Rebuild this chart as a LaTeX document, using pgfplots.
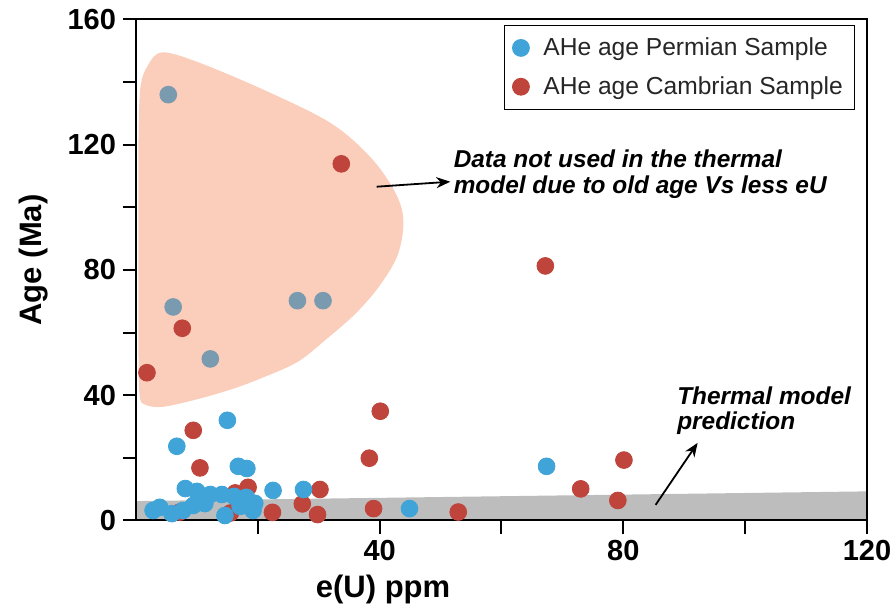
\documentclass[border=0pt]{standalone}
\usepackage{fontspec}
\setmainfont{Liberation Sans}
\usepackage{pgfplots}
\pgfplotsset{compat=1.18}
\usetikzlibrary{arrows.meta}
\definecolor{blueC}{RGB}{64,164,216}
\definecolor{redC}{RGB}{190,68,60}
\definecolor{grayblue}{RGB}{122,154,176}
\definecolor{salmon}{RGB}{250,206,186}
\definecolor{bandgray}{RGB}{124,124,124}
\begin{document}
\begin{tikzpicture}
\begin{axis}[
  scale only axis, width=365.5pt, height=250.5pt,
  xmin=0, xmax=120, ymin=0, ymax=160,
  axis line style={line width=1pt, black},
  axis on top,
  xtick={40,80,120}, minor xtick={20,60,100},
  ytick={0,40,80,120,160}, minor ytick={20,60,100,140},
  xtick pos=bottom, ytick pos=left,
  tick align=outside,
  major tick length=6.5pt, minor tick length=6.5pt,
  every tick/.style={line width=1pt, black},
  /pgf/number format/assume math mode=true,
  ticklabel style={font=\bfseries\fontsize{14.5}{16}\selectfont},
  xlabel={e(U) ppm}, ylabel={Age (Ma)},
  label style={font=\bfseries\fontsize{15.5}{17}\selectfont},
  x label style={at={(axis description cs:0.338,-0.095)}, anchor=north},
  y label style={at={(axis description cs:-0.14,0.52)}, anchor=center, rotate=0},
  legend style={at={(axis description cs:0.984,0.989)}, anchor=north east,
    draw=black, line width=0.5pt, font=\fontsize{12.3}{14}\selectfont,
    row sep=5pt, inner xsep=4pt, inner ysep=4pt, text=black!85,
    /tikz/every odd column/.style={column sep=5pt}},
  legend cell align=left,
]
% old-age region
\addplot[fill=salmon, draw=none, smooth, tension=0.55, forget plot] coordinates {
 (0.4,120) (0.7,138) (2.0,145.5) (4.3,149.5) (10,146.5) (20.9,137.6) (31.9,127)
 (38.5,116) (42.5,105) (43.9,96) (43,85) (40,75) (36,66) (31,57.5) (26.4,50.5)
 (20,45) (15.5,41.8) (10,38.7) (4.4,36.3) (1.5,37) (0.6,40) (0.4,55) (0.4,90)
};
\addlegendimage{only marks, mark=*, mark size=4.2pt, mark options={fill=blueC, draw=blueC}}
\addlegendentry{AHe age Permian Sample}
\addlegendimage{only marks, mark=*, mark size=4.2pt, mark options={fill=redC, draw=redC}}
\addlegendentry{AHe age Cambrian Sample}
% Cambrian
\addplot[only marks, mark=*, mark size=4.2pt, mark options={fill=redC, draw=redC}, forget plot] coordinates {
 (1.8,47.2) (7.6,61.4) (33.7,113.9) (67.2,81.3) (9.4,28.8) (10.5,16.8)
 (40.1,34.9) (38.3,19.9) (80.1,19.3) (73,10.1) (79.1,6.4) (30.2,9.9)
 (18.4,10.6) (16.3,8.8) (22.4,2.6) (27.3,5.3) (29.8,1.9) (39,3.8) (52.9,2.7)
 (7.2,2.7) (15.5,2.4)
};
% Permian
\addplot[only marks, mark=*, mark size=4.2pt, mark options={fill=blueC, draw=blueC}, forget plot] coordinates {
 (6.7,23.7) (15,32) (16.8,17.3) (18.2,16.6) (67.4,17.3) (22.5,9.6) (27.5,9.9)
 (8.1,10.2) (10,9.3) (12.2,8.3) (14.1,8.3) (16.1,7.7) (18.1,7.4) (19.5,5.5)
 (2.8,3.2) (3.9,4.2) (5.9,2.2) (7.7,3.2) (9.4,4.8) (11.3,5.4) (14.6,1.6)
 (17.1,4.5) (19.2,3.2) (44.9,3.8)
};
% Permian, excluded (in the old-age region)
\addplot[only marks, mark=*, mark size=4.2pt, mark options={fill=grayblue, draw=grayblue}, forget plot] coordinates {
 (5.3,136) (6.1,68.2) (12.2,51.6) (26.5,70.2) (30.7,70.2)
};
% thermal model prediction band
\addplot[fill=bandgray, fill opacity=0.5, draw=none, forget plot] coordinates {
 (0,0) (0,6.2) (120,9.3) (120,0)
} \closedcycle;
\draw[-{Stealth[length=7pt, width=5.5pt]}, line width=0.9pt] (axis cs:39.5,106.6) -- (axis cs:51.6,108.2);
\node[anchor=west, align=left, font=\bfseries\itshape\fontsize{12.2}{12.6}\selectfont, inner sep=0pt]
  at (axis cs:52.1,110.6) {Data not used in the thermal\\model due to old age Vs less eU};
\draw[-{Stealth[length=7pt, width=5.5pt]}, line width=0.9pt] (axis cs:85.3,5) -- (axis cs:92.2,24.8);
\node[anchor=west, align=left, font=\bfseries\itshape\fontsize{12.2}{12.6}\selectfont, inner sep=0pt]
  at (axis cs:88.8,35) {Thermal model\\prediction};
\end{axis}
\pgfresetboundingbox
\path[use as bounding box] (-68pt,-44.75pt) rectangle (377pt,260.25pt);
\end{tikzpicture}
\end{document}
